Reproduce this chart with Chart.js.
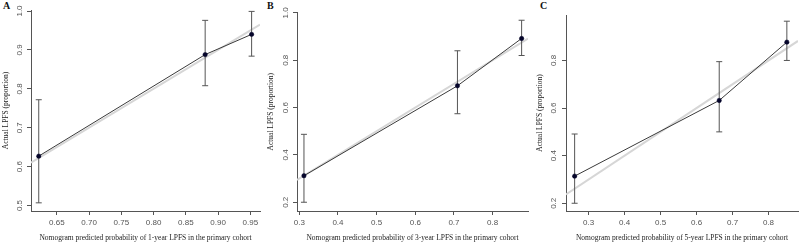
<!DOCTYPE html>
<html>
<head>
<meta charset="utf-8">
<script src="https://cdn.jsdelivr.net/npm/chart.js@4/dist/chart.umd.min.js"></script>
<style>
  html, body { margin: 0; padding: 0; background: #fff; }
  body { width: 803px; height: 244px; position: relative; overflow: hidden; }
  canvas { position: absolute; top: 0; }
  .lbl { position: absolute; font: bold 10px "Liberation Serif", serif; color: #111; }
</style>
</head>
<body>
<div class="lbl" style="left:3px;top:0px;">A</div>
<div class="lbl" style="left:267px;top:0px;">B</div>
<div class="lbl" style="left:540px;top:0px;">C</div>
<canvas id="cA" width="265" height="244" style="left:0px"></canvas>
<canvas id="cB" width="268" height="244" style="left:265px"></canvas>
<canvas id="cC" width="270" height="244" style="left:533px"></canvas>
<script>
// ---- Panel A: 1-year ----
const predA = [0.622, 0.880, 0.952];
const obsA  = [0.627, 0.888, 0.940];
const loA   = [0.507, 0.808, 0.884];
const hiA   = [0.772, 0.976, 0.999];
const idealA = [0.61, 0.965];
const xTitleA = "Nomogram predicted probability of 1-year LPFS in the primary cohort";

// ---- Panel B: 3-year ----
const predB = [0.312, 0.709, 0.875];
const obsB  = [0.312, 0.692, 0.892];
const loB   = [0.200, 0.574, 0.820];
const hiB   = [0.487, 0.840, 0.969];
const idealB = [0.294, 0.8915];
const xTitleB = "Nomogram predicted probability of 3-year LPFS in the primary cohort";

// ---- Panel C: 5-year ----
const predC = [0.261, 0.663, 0.851];
const obsC  = [0.314, 0.632, 0.877];
const loC   = [0.200, 0.500, 0.800];
const hiC   = [0.491, 0.795, 0.965];
const idealC = [0.237, 0.882];
const xTitleC = "Nomogram predicted probability of 5-year LPFS in the primary cohort";

const yTitle = "Actual LPFS (proportion)";

function makeChart(id, pred, obs, lo, hi, ideal, xTitle, cfg) {
  const datasets = [];
  datasets.push({
    order: 3,
    data: ideal.map(v => ({x: v, y: v})),
    showLine: true, borderColor: '#d6d6d6', borderWidth: 2, pointRadius: 0
  });
  for (let i = 0; i < pred.length; i++) {
    datasets.push({
      order: 2,
      data: [{x: pred[i], y: lo[i]}, {x: pred[i], y: hi[i]}],
      showLine: true, borderColor: '#555', borderWidth: 1,
      pointStyle: 'line', pointRadius: 3, pointBorderColor: '#555', pointBorderWidth: 1
    });
  }
  datasets.push({
    order: 1,
    data: pred.map((p, i) => ({x: p, y: obs[i]})),
    showLine: true, borderColor: '#3a3a3a', borderWidth: 1,
    pointRadius: 2.2, pointBackgroundColor: '#05052a', pointBorderColor: '#05052a', pointBorderWidth: 0.5
  });
  return new Chart(document.getElementById(id), {
    type: 'scatter',
    data: { datasets },
    options: {
      responsive: false, animation: false, devicePixelRatio: 1,
      plugins: { legend: { display: false }, tooltip: { enabled: false } },
      layout: { padding: { top: cfg.top, right: cfg.right, left: 0, bottom: 0 } },
      scales: {
        x: {
          type: 'linear', min: cfg.xmin, max: cfg.xmax,
          afterFit: s => { s.height = 33; },
          grid: { display: true, drawOnChartArea: false, drawTicks: true, tickLength: 4, color: '#555', lineWidth: 1 },
          border: { display: true, color: '#555', width: 1 },
          ticks: { stepSize: cfg.xstep, includeBounds: false, autoSkip: false, maxRotation: 0, minRotation: 0,
                   padding: 3, color: '#555', font: { family: '"Liberation Sans", Arial, sans-serif', size: 8 },
                   callback: v => v.toFixed(cfg.xdec) },
          title: { display: true, text: xTitle, color: '#222', padding: { top: 0, bottom: 1.5 },
                   font: { family: '"Liberation Serif", "Times New Roman", serif', size: 7.5, lineHeight: 1.2 } }
        },
        y: {
          type: 'linear', min: cfg.ymin, max: cfg.ymax,
          afterFit: s => { s.width = cfg.yw; },
          grid: { display: true, drawOnChartArea: false, drawTicks: true, tickLength: 4, color: '#555', lineWidth: 1 },
          border: { display: true, color: '#555', width: 1 },
          ticks: { stepSize: cfg.ystep, includeBounds: false, autoSkip: false, minRotation: 90, maxRotation: 90,
                   crossAlign: 'center', padding: cfg.ypad, color: '#555',
                   font: { family: '"Liberation Sans", Arial, sans-serif', size: 8 },
                   callback: v => v.toFixed(1) },
          title: { display: true, text: yTitle, color: '#222', padding: { top: cfg.ytpad, bottom: 0 },
                   font: { family: '"Liberation Serif", "Times New Roman", serif', size: 7.5, lineHeight: 1.2 } }
        }
      }
    }
  });
}

makeChart('cA', predA, obsA, loA, hiA, idealA, xTitleA,
  { top: 10, right: 5, xmin: 0.61, xmax: 0.965, xstep: 0.05, xdec: 2,
    ymin: 0.486, ymax: 1.0026, ystep: 0.1, yw: 31, ypad: 1.5, ytpad: 1.5 });
makeChart('cB', predB, obsB, loB, hiB, idealB, xTitleB,
  { top: 12.5, right: 5, xmin: 0.294, xmax: 0.8915, xstep: 0.1, xdec: 1,
    ymin: 0.163, ymax: 1.0017, ystep: 0.2, yw: 32, ypad: 1.5, ytpad: 1.5 });
makeChart('cC', predC, obsC, loC, hiC, idealC, xTitleC,
  { top: 15, right: 5, xmin: 0.237, xmax: 0.882, xstep: 0.1, xdec: 1,
    ymin: 0.1675, ymax: 0.991, ystep: 0.2, yw: 33, ypad: 2.5, ytpad: 2.5 });
</script>
</body>
</html>
